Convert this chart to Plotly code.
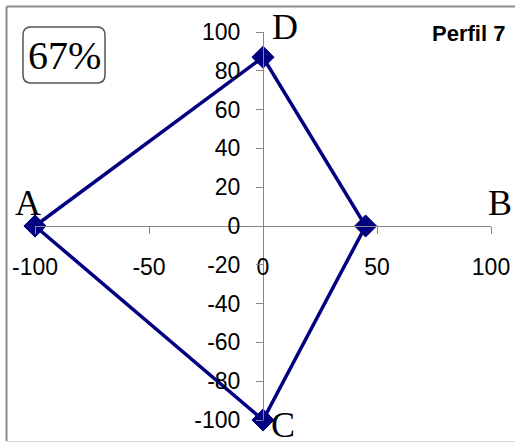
import plotly.graph_objects as go

# Profile values on each half-axis
labels = ["A", "B", "C", "D"]
values = [100, 45, 100, 87]
score_text = "67%"
title_text = "Perfil 7"
x_ticks = [-100, -50, 0, 50, 100]
y_ticks = [-100, -80, -60, -40, -20, 0, 20, 40, 60, 80, 100]

A, B, C, D = values
# polygon A -> D -> B -> C -> A
poly_x = [-A, 0, B, 0, -A]
poly_y = [0, D, 0, -C, 0]

W, H = 515, 444
ML, MR, MT, MB = 35, 24, 32, 24
PW, PH = W - ML - MR, H - MT - MB


def px_x(p):
    return (p - ML) / PW


def px_y(p):
    return (H - MB - p) / PH


def hyphen(v):
    return str(v).replace("\u2212", "-")


navy = "#000080"
axis_gray = "#868686"

fig = go.Figure()
fig.add_trace(go.Scatter(
    x=poly_x, y=poly_y, mode="lines+markers",
    line=dict(color=navy, width=3.5),
    marker=dict(symbol="diamond", size=17, color=navy, line=dict(color=navy, width=1)),
    cliponaxis=False, hoverinfo="skip", showlegend=False,
))

serif = "Liberation Serif, Times New Roman, serif"
sans = "Liberation Sans, Arial, sans-serif"

# axis-end letters
ends = {"A": (-100, 0, -7, 23), "B": (100, 0, 9, 23), "C": (0, -100, 20, -5), "D": (0, 100, 22, 5)}
for name in labels:
    x0, y0, dx, dy = ends[name]
    fig.add_annotation(x=x0, y=y0, xref="x", yref="y", text=name, showarrow=False,
                       xshift=dx, yshift=dy, font=dict(family=serif, size=36, color="black"),
                       xanchor="center", yanchor="middle")

# score box with rounded corners
bx0, bx1, by0, by1, r = 23, 105, 27, 83, 8
rx, ry = r / PW, r / PH
X0, X1, Y0, Y1 = px_x(bx0), px_x(bx1), px_y(by1), px_y(by0)
path = (f"M {X0+rx},{Y0} L {X1-rx},{Y0} Q {X1},{Y0} {X1},{Y0+ry} "
        f"L {X1},{Y1-ry} Q {X1},{Y1} {X1-rx},{Y1} L {X0+rx},{Y1} "
        f"Q {X0},{Y1} {X0},{Y1-ry} L {X0},{Y0+ry} Q {X0},{Y0} {X0+rx},{Y0} Z")
fig.add_shape(type="path", path=path, xref="paper", yref="paper",
              line=dict(color="#555555", width=1.5), fillcolor="white", layer="above")
fig.add_annotation(x=px_x((bx0 + bx1) / 2), y=px_y((by0 + by1) / 2), xref="paper", yref="paper",
                   text=score_text, showarrow=False, xanchor="center", yanchor="middle",
                   font=dict(family=serif, size=40, color="black"))

fig.add_annotation(x=px_x(507), y=px_y(33), xref="paper", yref="paper", text=f"<b>{title_text}</b>",
                   showarrow=False, xanchor="right", yanchor="middle",
                   font=dict(family=sans, size=22, color="black"))

# outer frame
fig.add_shape(type="line", xref="paper", yref="paper", x0=px_x(6.5), x1=px_x(6.5), y0=px_y(441), y1=px_y(6.5),
              line=dict(color="#8c8c8c", width=2))
fig.add_shape(type="line", xref="paper", yref="paper", x0=px_x(6.5), x1=px_x(520), y0=px_y(6.5), y1=px_y(6.5),
              line=dict(color="#8c8c8c", width=2))
fig.add_shape(type="line", xref="paper", yref="paper", x0=px_x(6.5), x1=px_x(520), y0=px_y(441.5), y1=px_y(441.5),
              line=dict(color="#d6d6d6", width=1))

tick_font = dict(family=sans, size=23, color="black")
fig.update_layout(
    width=W, height=H, margin=dict(l=ML, r=MR, t=MT, b=MB),
    paper_bgcolor="white", plot_bgcolor="white",
    xaxis=dict(range=[-100, 100], tickvals=x_ticks, ticktext=[hyphen(v) for v in x_ticks],
               showgrid=False, zeroline=False,
               showline=True, linecolor=axis_gray, linewidth=1,
               ticks="outside", ticklen=7, tickcolor=axis_gray, tickwidth=1,
               anchor="free", position=0.5, ticklabelstandoff=13, automargin=False,
               tickfont=tick_font, fixedrange=True),
    yaxis=dict(range=[-100, 100], tickvals=y_ticks, ticktext=[hyphen(v) for v in y_ticks],
               showgrid=False, zeroline=False,
               showline=True, linecolor=axis_gray, linewidth=1,
               ticks="outside", ticklen=7, tickcolor=axis_gray, tickwidth=1,
               anchor="free", position=0.5, ticklabelstandoff=11, automargin=False,
               tickfont=tick_font, fixedrange=True),
)

fig.write_html("out.html")
